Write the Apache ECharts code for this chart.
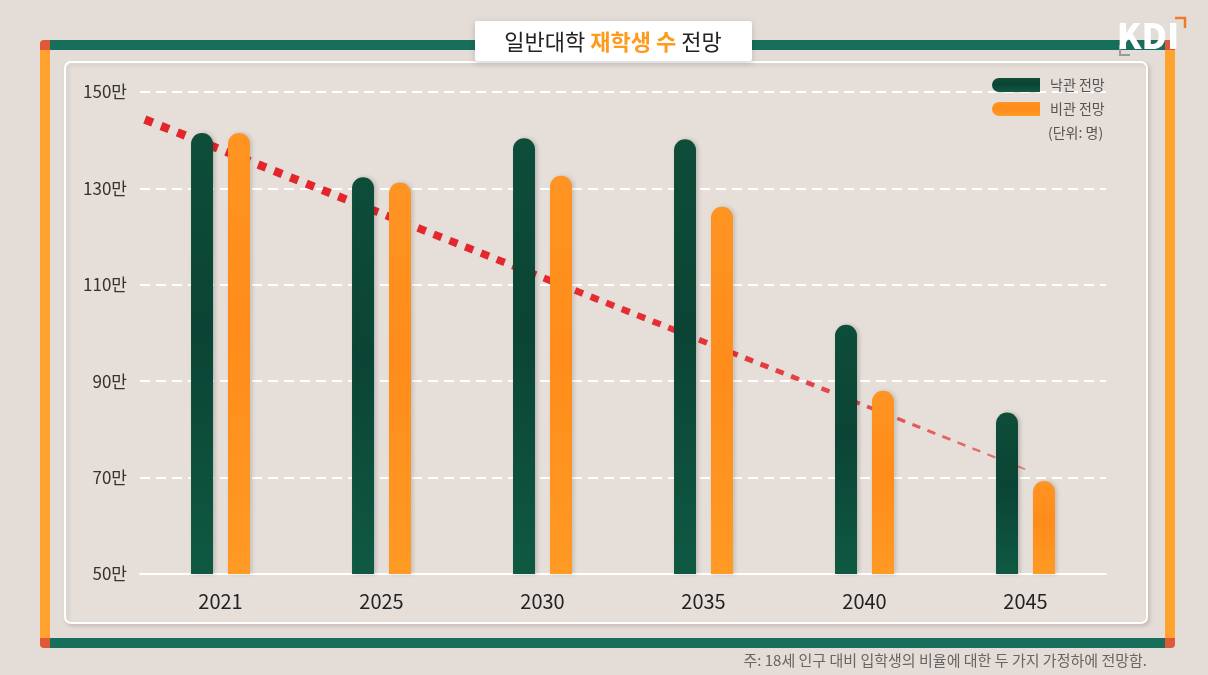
<!DOCTYPE html>
<html><head><meta charset="utf-8">
<script src="https://cdn.jsdelivr.net/npm/echarts@6/dist/echarts.min.js"></script>
<style>html,body{margin:0;padding:0;background:#e4dcd7;}#c{width:1208px;height:675px;}</style>
</head><body><div id="c"></div>
<script>
var years = ['2021','2025','2030','2035','2040','2045'];
var optimistic = [141.5, 132.3, 140.4, 140.2, 101.7, 83.5];
var pessimistic = [141.5, 131.2, 132.6, 126.2, 88.0, 69.3];
var trendStart = [-0.47, 144.3];
var trendEnd = [5.03, 71.3];
var seriesNames = ['낙관 전망', '비관 전망'];
var titleParts = ['일반대학 ', '재학생 수', ' 전망'];
var unitText = '(단위: 명)';
var noteText = '주: 18세 인구 대비 입학생의 비율에 대한 두 가지 가정하에 전망함.';

var FONT = '"Noto Sans CJK KR", "Noto Sans", sans-serif';
var chart = echarts.init(document.getElementById('c'));

function grad(c1, c2, c3) {
  return new echarts.graphic.LinearGradient(0, 0, 0, 1, [
    {offset: 0, color: c1}, {offset: 0.45, color: c2}, {offset: 1, color: c3}
  ]);
}

var option = {
  backgroundColor: '#e4dcd7',
  animation: false,
  textStyle: {fontFamily: FONT},
  grid: {left: 140, right: 102, top: 92, bottom: 101},
  legend: {
    data: seriesNames,
    orient: 'vertical',
    left: 992, top: 78, padding: 0,
    itemWidth: 48, itemHeight: 14, itemGap: 10,
    icon: 'path://M7,0 L48,0 L48,14 L7,14 A7,7 0 0 1 7,0 Z',
    textStyle: {color: '#555', fontSize: 14, fontFamily: FONT, padding: [0,0,0,5]}
  },
  xAxis: [{
    type: 'category', data: years,
    axisLine: {show: true, lineStyle: {color: '#ffffff', width: 2}},
    axisTick: {show: false},
    axisLabel: {color: '#222', fontSize: 20, margin: 17, fontFamily: FONT}
  }, {
    type: 'value', min: -0.5, max: 5.5, show: false
  }],
  yAxis: {
    type: 'value', min: 50, max: 150, interval: 20,
    axisLine: {show: false}, axisTick: {show: false},
    axisLabel: {color: '#333', fontSize: 17, margin: 13, fontFamily: FONT,
      formatter: function (v) { return v + '만'; }},
    splitLine: {lineStyle: {color: '#ffffff', width: 2, type: [10, 6]}}
  },
  series: [{
    type: 'custom', xAxisIndex: 1, yAxisIndex: 0, z: 1,
    data: [[trendStart[0], trendStart[1], trendEnd[0], trendEnd[1]]],
    renderItem: function (params, api) {
      var p0 = api.coord([api.value(0), api.value(1)]);
      var p1 = api.coord([api.value(2), api.value(3)]);
      var dx = p1[0] - p0[0], dy = p1[1] - p0[1];
      var L = Math.sqrt(dx * dx + dy * dy);
      var ux = dx / L, uy = dy / L;
      var kids = [];
      var s = 0;
      while (s < L) {
        var t = s / L;
        var w = 8.5 - 7 * t * t;
        var dl = 8.5;
        var gap = 9 - 1.5 * t;
        var e = Math.min(s + dl, L);
        kids.push({
          type: 'line',
          shape: {x1: p0[0] + ux * s, y1: p0[1] + uy * s, x2: p0[0] + ux * e, y2: p0[1] + uy * e},
          style: {stroke: '#e3262b', lineWidth: w, opacity: 1 - 0.5 * Math.pow(t, 4), lineCap: 'butt'}
        });
        s += dl + gap;
      }
      return {type: 'group', children: kids};
    }
  }, {
    name: seriesNames[0], type: 'bar', data: optimistic, z: 3,
    barWidth: 22, barGap: '68%',
    itemStyle: {color: grad('#0e4d3a', '#0b4434', '#0f5943'), borderRadius: [11, 11, 0, 0],
      shadowBlur: 4, shadowColor: 'rgba(0,0,0,0.18)', shadowOffsetX: 2},
  }, {
    name: seriesNames[1], type: 'bar', data: pessimistic, z: 3,
    barWidth: 22, barGap: '68%',
    itemStyle: {color: grad('#ff9422', '#ff8c1a', '#ff9a24'), borderRadius: [11, 11, 0, 0],
      shadowBlur: 4, shadowColor: 'rgba(0,0,0,0.15)', shadowOffsetX: 2},
  }],
  graphic: [
    {type: 'rect', z: -10, shape: {x: 65, y: 62, width: 1082, height: 561, r: 6},
      style: {fill: '#e5ded9', stroke: '#ffffff', lineWidth: 2, shadowBlur: 4, shadowColor: 'rgba(0,0,0,0.12)', shadowOffsetX: 2, shadowOffsetY: 2}},
    {type: 'rect', z: 5, shape: {x: 50, y: 40, width: 1115, height: 10}, style: {fill: '#176f5b'}},
    {type: 'rect', z: 5, shape: {x: 50, y: 638, width: 1115, height: 10}, style: {fill: '#176f5b'}},
    {type: 'rect', z: 5, shape: {x: 40, y: 50, width: 10, height: 588}, style: {fill: '#ffa22e'}},
    {type: 'rect', z: 5, shape: {x: 1165, y: 50, width: 10, height: 588}, style: {fill: '#ffa22e'}},
    {type: 'rect', z: 5, shape: {x: 40, y: 40, width: 10, height: 10, r: [4, 0, 0, 0]}, style: {fill: '#df5838'}},
    {type: 'rect', z: 5, shape: {x: 1165, y: 40, width: 10, height: 10, r: [0, 4, 0, 0]}, style: {fill: '#df5838'}},
    {type: 'rect', z: 5, shape: {x: 40, y: 638, width: 10, height: 10, r: [0, 0, 0, 4]}, style: {fill: '#df5838'}},
    {type: 'rect', z: 5, shape: {x: 1165, y: 638, width: 10, height: 10, r: [0, 0, 4, 0]}, style: {fill: '#df5838'}},
    {type: 'rect', z: 6, shape: {x: 475, y: 21, width: 277, height: 40, r: 2},
      style: {fill: '#ffffff', shadowBlur: 6, shadowColor: 'rgba(0,0,0,0.18)', shadowOffsetY: 2}},
    {type: 'text', z: 7, x: 613, y: 42, style: {
      text: '{a|' + titleParts[0] + '}{b|' + titleParts[1] + '}{a|' + titleParts[2] + '}',
      align: 'center', verticalAlign: 'middle',
      rich: {
        a: {fontSize: 22, fontFamily: FONT, fontWeight: 'normal', fill: '#222'},
        b: {fontSize: 22, fontFamily: FONT, fontWeight: 'bold', fill: '#ff9a1c'}
      }}},
    {type: 'polyline', z: 7, shape: {points: [[1175, 18], [1185, 18], [1185, 28]]}, style: {stroke: '#f07a2a', lineWidth: 2.5, fill: null}},
    {type: 'polyline', z: 7, shape: {points: [[1120, 45], [1120, 55], [1130, 55]]}, style: {stroke: '#9a9a98', lineWidth: 2, fill: null}},
    {type: 'text', z: 8, x: 1148, y: 36, style: {text: 'KDI', align: 'center', verticalAlign: 'middle',
      fontSize: 35, fontWeight: 900, fontFamily: FONT, fill: '#ffffff'}},
    {type: 'text', z: 7, x: 1048, y: 133, style: {text: unitText, align: 'left', verticalAlign: 'middle',
      fontSize: 14, fontFamily: FONT, fill: '#555'}},
    {type: 'text', z: 7, x: 1147, y: 660, style: {text: noteText, align: 'right', verticalAlign: 'middle',
      fontSize: 15, fontFamily: FONT, fill: '#666'}}
  ]
};
chart.setOption(option);
</script></body></html>
